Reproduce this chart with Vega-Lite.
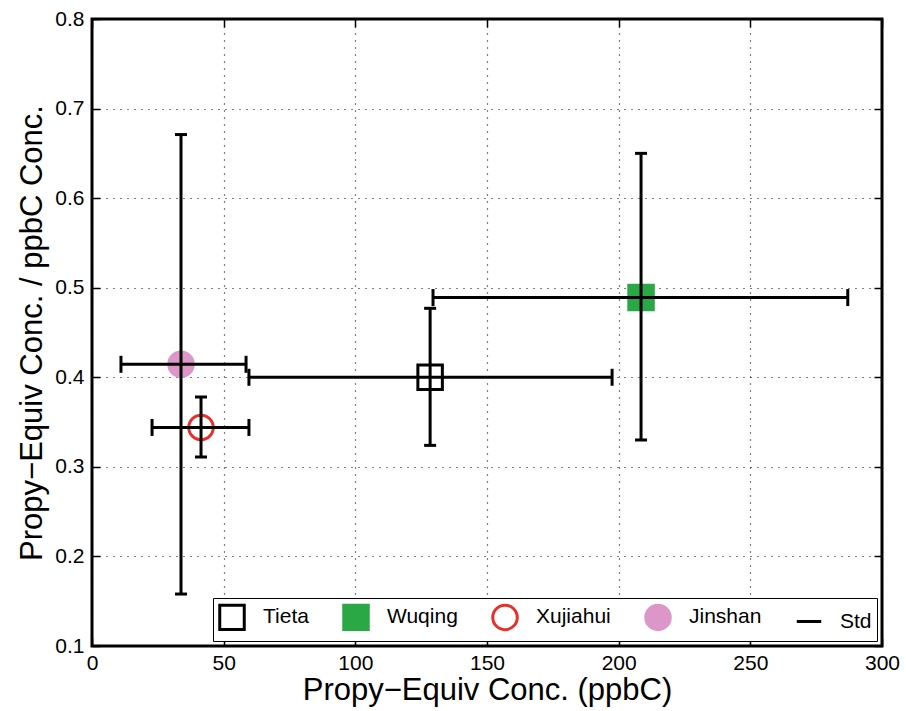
{
  "$schema": "https://vega.github.io/schema/vega-lite/v6.json",
  "width": 790,
  "height": 627,
  "autosize": {"type": "none"},
  "padding": {"left": 92, "top": 19, "right": 24, "bottom": 65},
  "background": "white",
  "config": {
    "font": "Liberation Sans",
    "view": {"stroke": "black", "strokeWidth": 3},
    "axis": {
      "domain": false,
      "tickColor": "black",
      "tickWidth": 1.5,
      "tickSize": -8,
      "labelFontSize": 21,
      "labelColor": "black",
      "labelFlush": false,
      "titleFontSize": 31,
      "titleFontWeight": "normal",
      "titleColor": "black"
    },
    "legend": {
      "strokeColor": "black",
      "fillColor": "white",
      "padding": 5,
      "labelFontSize": 21,
      "labelColor": "black",
      "columnPadding": 28,
      "symbolStrokeWidth": 3,
      "labelOffset": 17
    }
  },
  "resolve": {"axis": {"x": "independent", "y": "independent"}},
  "data": {
    "values": [
      {"site": "Tieta", "x": 128.4, "y": 0.400, "xlo": 59.6, "xhi": 197.5, "ylo": 0.324, "yhi": 0.477},
      {"site": "Wuqing", "x": 208.5, "y": 0.489, "xlo": 129.5, "xhi": 287, "ylo": 0.33, "yhi": 0.65},
      {"site": "Xujiahui", "x": 41.4, "y": 0.344, "xlo": 22.8, "xhi": 59.6, "ylo": 0.311, "yhi": 0.378},
      {"site": "Jinshan", "x": 33.8, "y": 0.4145, "xlo": 11, "xhi": 58.5, "ylo": 0.158, "yhi": 0.671}
    ]
  },
  "encoding": {
    "x": {"type": "quantitative", "scale": {"domain": [0, 300], "nice": false, "zero": false}, "axis": null},
    "y": {"type": "quantitative", "scale": {"domain": [0.1, 0.8], "nice": false, "zero": false}, "axis": null}
  },
  "layer": [
    {
      "mark": {"type": "point", "opacity": 1, "strokeWidth": 3},
      "encoding": {
        "x": {"field": "x", "axis": {"orient": "bottom", "values": [0, 50, 100, 150, 200, 250, 300], "title": "Propy−Equiv Conc. (ppbC)", "labelPadding": 14, "titlePadding": 2, "grid": true, "gridColor": "black", "gridDash": [1, 6], "gridWidth": 1.2, "gridOpacity": 1}},
        "y": {"field": "y", "axis": {"orient": "left", "values": [0.1, 0.2, 0.3, 0.4, 0.5, 0.6, 0.7, 0.8], "format": ".1f", "title": "Propy−Equiv Conc. / ppbC Conc.", "labelPadding": 16, "titlePadding": 6, "grid": true, "gridColor": "black", "gridDash": [1, 6], "gridWidth": 1.2, "gridOpacity": 1}},
        "shape": {
          "field": "site", "type": "nominal",
          "scale": {"domain": ["Tieta", "Wuqing", "Xujiahui", "Jinshan", "Std"], "range": ["square", "square", "circle", "circle", "stroke"]},
          "legend": {"title": null, "orient": "bottom-right", "direction": "horizontal", "offset": 5, "symbolSize": 600}
        },
        "fill": {
          "field": "site", "type": "nominal",
          "scale": {"domain": ["Tieta", "Wuqing", "Xujiahui", "Jinshan", "Std"], "range": ["transparent", "#2aa845", "transparent", "#dd96c8", "transparent"]},
          "legend": {"title": null, "orient": "bottom-right", "direction": "horizontal", "offset": 5, "symbolSize": 600}
        },
        "stroke": {
          "field": "site", "type": "nominal",
          "scale": {"domain": ["Tieta", "Wuqing", "Xujiahui", "Jinshan", "Std"], "range": ["black", "#2aa845", "#e8302a", "#dd96c8", "black"]},
          "legend": {"title": null, "orient": "bottom-right", "direction": "horizontal", "offset": 5, "symbolSize": 600}
        },
        "size": {"value": 600}
      }
    },
    {
      "mark": {"type": "rule", "color": "black", "strokeWidth": 3},
      "encoding": {
        "x": {"field": "xlo", "axis": {"orient": "top", "values": [0, 50, 100, 150, 200, 250, 300], "labels": false, "title": null, "grid": false}},
        "x2": {"field": "xhi"},
        "y": {"field": "y", "axis": {"orient": "right", "values": [0.1, 0.2, 0.3, 0.4, 0.5, 0.6, 0.7, 0.8], "labels": false, "title": null, "grid": false}}
      }
    },
    {
      "mark": {"type": "rule", "color": "black", "strokeWidth": 3},
      "encoding": {"x": {"field": "x"}, "y": {"field": "ylo"}, "y2": {"field": "yhi"}}
    },
    {
      "mark": {"type": "tick", "color": "black", "orient": "vertical", "size": 17, "thickness": 3, "opacity": 1},
      "encoding": {"x": {"field": "xlo"}, "y": {"field": "y"}}
    },
    {
      "mark": {"type": "tick", "color": "black", "orient": "vertical", "size": 17, "thickness": 3, "opacity": 1},
      "encoding": {"x": {"field": "xhi"}, "y": {"field": "y"}}
    },
    {
      "mark": {"type": "tick", "color": "black", "orient": "horizontal", "size": 12, "thickness": 3, "opacity": 1},
      "encoding": {"x": {"field": "x"}, "y": {"field": "ylo"}}
    },
    {
      "mark": {"type": "tick", "color": "black", "orient": "horizontal", "size": 12, "thickness": 3, "opacity": 1},
      "encoding": {"x": {"field": "x"}, "y": {"field": "yhi"}}
    }
  ]
}
